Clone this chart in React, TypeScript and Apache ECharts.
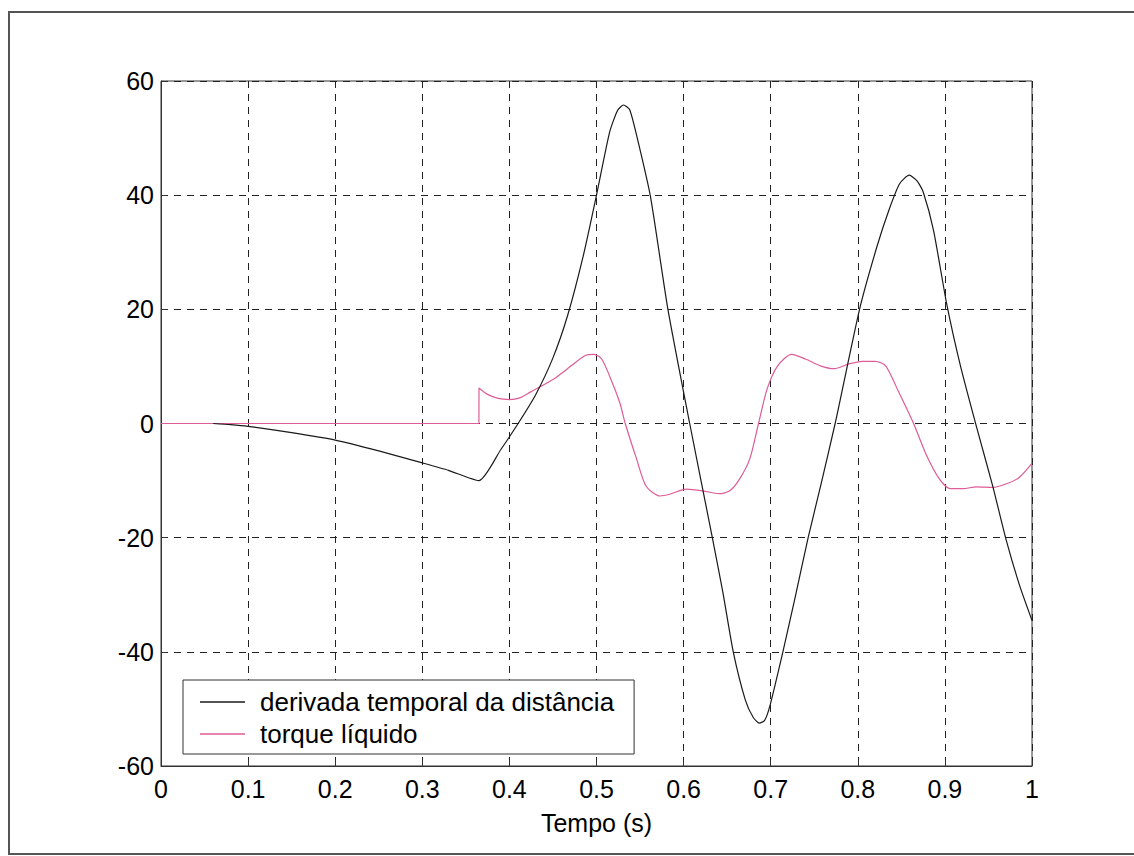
import React, { useEffect, useRef } from "react";
import * as echarts from "echarts";

const xTicks = [0, 0.1, 0.2, 0.3, 0.4, 0.5, 0.6, 0.7, 0.8, 0.9, 1];
const yTicks = [-60, -40, -20, 0, 20, 40, 60];

const derivT = [0.06, 0.08, 0.1, 0.15, 0.2, 0.25, 0.3, 0.33, 0.365, 0.39, 0.41, 0.43, 0.45, 0.467, 0.485, 0.5, 0.515, 0.524, 0.531, 0.538, 0.546, 0.562, 0.582, 0.607, 0.633, 0.645, 0.657, 0.671, 0.68, 0.687, 0.693, 0.699, 0.714, 0.728, 0.743, 0.758, 0.774, 0.802, 0.822, 0.836, 0.848, 0.859, 0.868, 0.875, 0.887, 0.902, 0.918, 0.937, 0.955, 0.97, 0.986, 1.0];
const derivV = [0, -0.2, -0.5, -1.6, -2.9, -4.8, -6.9, -8.2, -10, -4.6, 0, 5, 11.5, 19, 29.5, 40, 51, 54.8, 55.8, 55, 50.5, 39.7, 20, 0, -20, -29.5, -40, -48.5, -51.5, -52.5, -52, -49.5, -40, -30.5, -20, -10.5, 0, 20, 31, 37.5, 42, 43.5, 42.5, 40.6, 33.8, 21, 10, -1, -11, -20.2, -28.5, -34.5];

const torqueT = [0, 0.365, 0.3651, 0.375, 0.387, 0.4, 0.412, 0.424, 0.451, 0.471, 0.487, 0.497, 0.506, 0.518, 0.527, 0.533, 0.546, 0.557, 0.573, 0.584, 0.603, 0.622, 0.641, 0.653, 0.664, 0.676, 0.686, 0.696, 0.708, 0.724, 0.74, 0.757, 0.773, 0.789, 0.805, 0.82, 0.832, 0.847, 0.864, 0.879, 0.894, 0.906, 0.921, 0.936, 0.955, 0.97, 0.985, 1.0];
const torqueV = [0, 0, 6.2, 5.1, 4.4, 4.2, 4.5, 5.5, 7.8, 10.1, 11.9, 12.1, 11.3, 7.2, 3.5, 0, -6.2, -11, -12.7, -12.4, -11.5, -11.8, -12.3, -11.8, -9.8, -6.2, 0, 6.1, 10.1, 12.1, 11.3, 10.1, 9.6, 10.4, 10.9, 10.9, 10.1, 5.5, 0, -5.6, -9.8, -11.4, -11.4, -11.1, -11.2, -10.6, -9.5, -7];

const seriesNames = ["derivada temporal da distância", "torque líquido"];
const xName = "Tempo (s)";

const FONT = "'Liberation Sans', Arial, Helvetica, sans-serif";
const BLACK = "#1a1a1a";
const PINK = "#de5c97";

export default function App() {
  const ref = useRef<HTMLDivElement>(null);
  useEffect(() => {
    document.body.style.margin = "0";
    const chart = echarts.init(ref.current!, null, { renderer: "svg" });
    const gridLine = { show: true, lineStyle: { color: "#222", width: 1, type: [7, 6] as any } };
    chart.setOption({
      animation: false,
      backgroundColor: "#fff",
      textStyle: { fontFamily: FONT },
      grid: {
        left: 161,
        right: 102,
        top: 81,
        bottom: 90,
        show: true,
        borderColor: "#333",
        borderWidth: 1,
      },
      graphic: [
        {
          type: "rect",
          shape: { x: 9, y: 12, width: 1200, height: 842 },
          style: { fill: "none", stroke: "#555", lineWidth: 2 },
          silent: true,
          z: -1,
        },
      ],
      legend: {
        left: 183,
        top: 680,
        orient: "vertical",
        backgroundColor: "#fff",
        borderColor: "#333",
        borderWidth: 1,
        borderRadius: 0,
        padding: [9, 20, 7, 17],
        icon: "rect",
        itemWidth: 45,
        itemHeight: 1.3,
        itemGap: 6,
        textStyle: { fontSize: 26, color: "#000", fontFamily: FONT, lineHeight: 25, padding: [0, 0, 0, 10] },
        data: seriesNames,
      },
      xAxis: {
        type: "value",
        min: xTicks[0],
        max: xTicks[xTicks.length - 1],
        interval: 0.1,
        name: xName,
        nameLocation: "middle",
        nameGap: 44,
        nameTextStyle: { fontSize: 25, color: "#000", fontFamily: FONT },
        axisLine: { show: true, onZero: false, lineStyle: { color: "#333", width: 1 } },
        axisTick: { show: true, inside: true, length: 6, lineStyle: { color: "#333" } },
        axisLabel: { fontSize: 25, color: "#000", margin: 10, fontFamily: FONT },
        splitLine: gridLine,
      },
      yAxis: {
        type: "value",
        min: yTicks[0],
        max: yTicks[yTicks.length - 1],
        interval: 20,
        axisLine: { show: true, onZero: false, lineStyle: { color: "#333", width: 1 } },
        axisTick: { show: true, inside: true, length: 6, lineStyle: { color: "#333" } },
        axisLabel: { fontSize: 25, color: "#000", margin: 7, fontFamily: FONT },
        splitLine: gridLine,
      },
      series: [
        {
          name: seriesNames[0],
          type: "line",
          symbol: "none",
          smooth: 0.2,
          lineStyle: { color: BLACK, width: 1.2 },
          itemStyle: { color: BLACK },
          data: derivT.map((t, i) => [t, derivV[i]]),
          z: 3,
        },
        {
          name: seriesNames[1],
          type: "line",
          symbol: "none",
          smooth: 0.25,
          lineStyle: { color: PINK, width: 1.2 },
          itemStyle: { color: PINK },
          data: torqueT.map((t, i) => [t, torqueV[i]]),
          z: 2,
        },
      ],
    });
    return () => chart.dispose();
  }, []);
  return <div ref={ref} style={{ width: 1134, height: 856 }} />;
}
